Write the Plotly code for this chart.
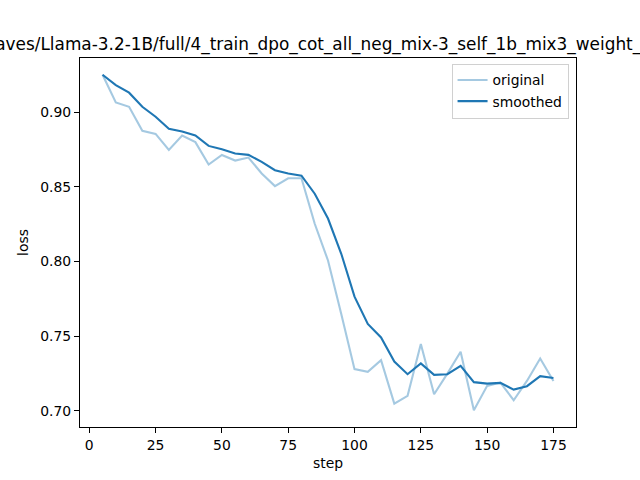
import plotly.graph_objects as go

# 학습 손실 데이터
steps = [5, 10, 15, 20, 25, 30, 35, 40, 45, 50, 55, 60, 65, 70, 75, 80, 85, 90,
         95, 100, 105, 110, 115, 120, 125, 130, 135, 140, 145, 150, 155, 160, 165, 170, 175]
original = [0.925, 0.9065, 0.9036, 0.8875, 0.8854, 0.8747, 0.8843, 0.8799, 0.8649,
            0.8713, 0.8676, 0.8696, 0.8589, 0.8505, 0.8557, 0.8557, 0.8253, 0.8007,
            0.7649, 0.728, 0.7262, 0.734, 0.7049, 0.7101, 0.7448, 0.7112, 0.725,
            0.7396, 0.7005, 0.7168, 0.719, 0.7072, 0.7201, 0.7351, 0.7201]
smoothed = [0.925, 0.9181, 0.913, 0.9036, 0.8969, 0.8888, 0.887, 0.8844, 0.8774,
            0.8752, 0.8723, 0.8714, 0.8667, 0.8611, 0.8589, 0.8575, 0.8454, 0.8288,
            0.8052, 0.7765, 0.7582, 0.7492, 0.7331, 0.7246, 0.7318, 0.7242, 0.7246,
            0.7302, 0.7193, 0.7183, 0.7188, 0.7143, 0.7166, 0.7233, 0.7221]
x_ticks = [0, 25, 50, 75, 100, 125, 150, 175]
y_ticks = [0.70, 0.75, 0.80, 0.85, 0.90]
title_text = 'saves/Llama-3.2-1B/full/4_train_dpo_cot_all_neg_mix-3_self_1b_mix3_weight_r10'

BLUE = '#1f77b4'
FONT = 'DejaVu Sans, sans-serif'

# matplotlib 기본 여백 (5%)
x_span = max(steps) - min(steps)
x_range = [min(steps) - 0.05 * x_span, max(steps) + 0.05 * x_span]
all_y = original + smoothed
y_span = max(all_y) - min(all_y)
y_range = [min(all_y) - 0.05 * y_span, max(all_y) + 0.05 * y_span]

fig = go.Figure()

fig.add_trace(go.Scatter(
    x=steps, y=original, mode='lines', name='original',
    line=dict(color='rgba(31,119,180,0.4)', width=2.1)
))

fig.add_trace(go.Scatter(
    x=steps, y=smoothed, mode='lines', name='smoothed',
    line=dict(color=BLUE, width=2.1)
))

axis_common = dict(
    showline=True, mirror=True, linecolor='black', linewidth=1.1,
    showgrid=False, zeroline=False,
    ticks='outside', ticklen=5, tickwidth=1.1, tickcolor='black',
    tickfont=dict(family=FONT, size=13.9, color='black'),
)

fig.update_layout(
    width=640, height=480,
    margin=dict(l=80, r=64, t=58, b=53),
    paper_bgcolor='white', plot_bgcolor='white',
    font=dict(family=FONT, color='black'),
    title=dict(
        text=title_text,
        font=dict(family=FONT, size=16.9, color='black'),
        x=0.5, xref='paper', xanchor='center',
        y=1, yref='paper', yanchor='bottom', pad=dict(b=8),
        automargin=False
    ),
    xaxis=dict(
        range=x_range, tickvals=x_ticks,
        title=dict(text='step', font=dict(family=FONT, size=13.9), standoff=6),
        **axis_common
    ),
    yaxis=dict(
        range=y_range, tickvals=y_ticks, tickformat='.2f',
        title=dict(text='loss', font=dict(family=FONT, size=13.9), standoff=8),
        **axis_common
    ),
    legend=dict(
        x=0.985, y=0.985, xanchor='right', yanchor='top',
        bgcolor='rgba(255,255,255,0.8)', bordercolor='#d0d0d0', borderwidth=1,
        font=dict(family=FONT, size=13.9, color='black'),
        tracegroupgap=0
    ),
    showlegend=True,
)

# 브라우저 기본 body 여백 제거
fig.write_html("out.html", config={'displayModeBar': False},
               post_script="document.body.style.margin='0';")
